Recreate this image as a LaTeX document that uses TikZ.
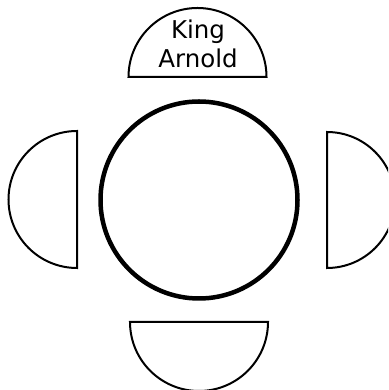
\documentclass[tikz,border=0pt]{standalone}
\usepackage{fontspec}
\setmainfont{DejaVu Sans}
\tikzset{
  seat/.style={draw=black, line width=2pt, fill=white, line join=miter},
  tablestyle/.style={circle, draw=black, line width=4.5pt, fill=white, minimum size=197pt, inner sep=0pt},
  lbl/.style={font=\fontsize{24.5}{29}\selectfont, anchor=base, inner sep=0pt}
}
\begin{document}
\begin{tikzpicture}[x=1pt,y=1pt]
\useasboundingbox (0,0) rectangle (388,390);
\clip (0,0) rectangle (388,390);
% top seat
\draw[seat] (128.5,313) arc[start angle=180,end angle=0,radius=69] -- cycle;
% left seat
\draw[seat] (77,259) arc[start angle=90,end angle=270,radius=68.5] -- cycle;
% right seat
\draw[seat] (327,258) arc[start angle=90,end angle=-90,radius=68] -- cycle;
% bottom seat
\draw[seat] (130,68) arc[start angle=180,end angle=360,radius=69] -- cycle;
% table
\node[tablestyle] (table) at (199,190) {};
% label
\node[lbl] (king) at (198,351) {King};
\node[lbl] (arnold) at (198,322) {Arnold};
\end{tikzpicture}
\end{document}
